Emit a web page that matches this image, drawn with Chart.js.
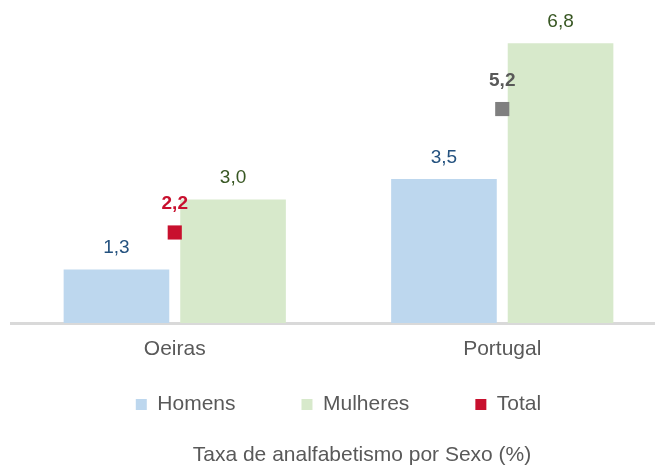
<!DOCTYPE html>
<html lang="pt">
<head>
<meta charset="utf-8">
<title>Taxa de analfabetismo por Sexo</title>
<script src="https://cdn.jsdelivr.net/npm/chart.js@4/dist/chart.umd.min.js"></script>
<style>
  html, body { margin: 0; padding: 0; background: #ffffff; }
  #wrap { width: 655px; height: 468px; overflow: hidden; }
</style>
</head>
<body>
<div id="wrap"><canvas id="analfabetismo" width="680" height="468"></canvas></div>
<script>
const regioes = ['Oeiras', 'Portugal'];
const homens = [1.3, 3.5];
const mulheres = [3.0, 6.8];
const total = [2.2, 5.2];
const tituloTexto = 'Taxa de analfabetismo por Sexo (%)';

const corHomens = '#BDD7EE';
const corMulheres = '#D7E9CB';
const corTotal = ['#C8102E', '#7F7F7F'];
const corTextoTotal = ['#C8102E', '#595959'];
const corCinza = '#595959';
const fonte = '"Liberation Sans", Arial, sans-serif';

function formatNumber(value) {
  return value.toFixed(1).replace('.', ',');
}

// rótulos de valor por cima das barras e dos pontos
const valueLabels = {
  id: 'valueLabels',
  afterDatasetsDraw(chart) {
    const ctx = chart.ctx;
    ctx.save();
    ctx.textAlign = 'center';
    ctx.textBaseline = 'middle';
    chart.data.datasets.forEach((dataset, i) => {
      const meta = chart.getDatasetMeta(i);
      meta.data.forEach((element, j) => {
        const isTotal = dataset.type === 'line';
        const color = Array.isArray(dataset.labelColor) ? dataset.labelColor[j] : dataset.labelColor;
        ctx.fillStyle = color;
        ctx.font = (isTotal ? 'bold ' : '') + '19px ' + fonte;
        const offset = isTotal ? 28.5 : 21.5;
        ctx.fillText(formatNumber(dataset.data[j]), element.x, element.y - offset);
      });
    });
    ctx.restore();
  }
};

// título por baixo da legenda
const bottomCaption = {
  id: 'bottomCaption',
  afterDraw(chart) {
    const ctx = chart.ctx;
    ctx.save();
    ctx.fillStyle = corCinza;
    ctx.font = '21px ' + fonte;
    ctx.textAlign = 'center';
    ctx.textBaseline = 'middle';
    ctx.fillText(tituloTexto, 362, 455);
    ctx.restore();
  }
};

new Chart(document.getElementById('analfabetismo'), {
  type: 'bar',
  data: {
    labels: regioes,
    datasets: [{
      label: 'Homens',
      data: homens,
      backgroundColor: corHomens,
      borderWidth: 0,
      labelColor: '#24527F',
      categoryPercentage: 0.712,
      barPercentage: 0.906,
      order: 2
    }, {
      label: 'Mulheres',
      data: mulheres,
      backgroundColor: corMulheres,
      borderWidth: 0,
      labelColor: '#385723',
      categoryPercentage: 0.712,
      barPercentage: 0.906,
      order: 2
    }, {
      type: 'line',
      label: 'Total',
      data: total,
      showLine: false,
      backgroundColor: corTotal[0],
      borderColor: corTotal[0],
      borderWidth: 0,
      pointStyle: 'rect',
      pointRadius: 10,
      pointHoverRadius: 10,
      pointBorderWidth: 0,
      pointBackgroundColor: corTotal,
      labelColor: corTextoTotal,
      order: 1
    }]
  },
  options: {
    responsive: false,
    animation: false,
    layout: {
      autoPadding: false,
      padding: { left: 11, right: 14, top: 0, bottom: 43 }
    },
    scales: {
      x: {
        grid: { display: false, drawTicks: false },
        border: { display: true, color: '#D9D9D9', width: 3 },
        ticks: {
          color: corCinza,
          padding: -39,
          mirror: true,
          font: { family: fonte, size: 21 }
        },
        afterFit(scale) {
          scale.height = 5;
        }
      },
      y: {
        display: false,
        min: 0,
        max: 7.85
      }
    },
    plugins: {
      legend: {
        position: 'bottom',
        labels: {
          color: corCinza,
          boxWidth: 11,
          boxHeight: 11,
          padding: 66,
          font: { family: fonte, size: 21 },
          sort: (a, b) => a.datasetIndex - b.datasetIndex
        }
      },
      tooltip: { enabled: false }
    }
  },
  plugins: [valueLabels, bottomCaption]
});
</script>
</body>
</html>
